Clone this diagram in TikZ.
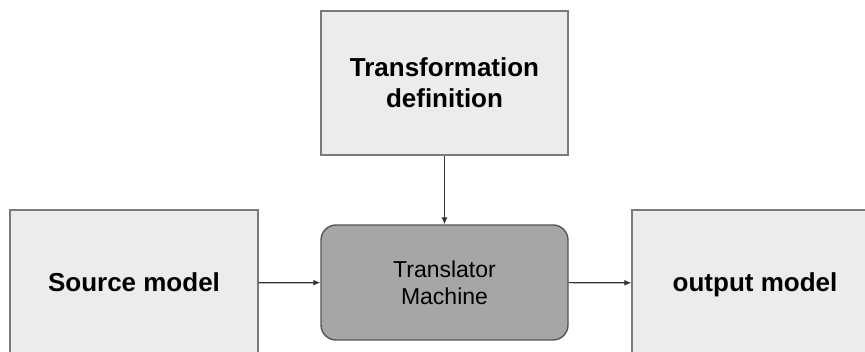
\documentclass[tikz,border=0pt]{standalone}
\usepackage{fontspec}
\setmainfont{Liberation Sans}
\usepackage{xcolor}
\usetikzlibrary{arrows.meta}

\definecolor{boxfill}{HTML}{ECECEC}
\definecolor{boxline}{HTML}{7A7A7A}
\definecolor{machfill}{HTML}{A6A6A6}
\definecolor{linkcol}{HTML}{333333}

\tikzset{
  modelbox/.style={draw=boxline,fill=boxfill,line width=1.4pt,align=center,
    font=\fontsize{26}{31}\selectfont\bfseries,inner sep=0pt},
  machbox/.style={draw=boxline!70!black,fill=machfill,line width=1.4pt,rounded corners=15pt,
    align=center,font=\fontsize{23}{27}\selectfont,inner sep=0pt},
  link/.style={-{Latex[length=7pt,width=6pt]},draw=linkcol,line width=1.1pt}
}

\begin{document}
\begin{tikzpicture}[x=1pt,y=1pt,>=Latex]
  \clip (0,0) rectangle (865,352);
  \fill[white] (0,0) rectangle (865,352);
  % the four boxes
  \node[modelbox,minimum width=248pt,minimum height=146pt,text height=19pt,text depth=1pt] (src) at (134,69) {Source model};
  \node[modelbox,minimum width=247pt,minimum height=144pt] (def) at (444.5,269) {Transformation\\definition};
  \node[machbox,minimum width=247pt,minimum height=115pt] (mach) at (444.5,69.5) {Translator\\Machine};
  \node[modelbox,minimum width=246pt,minimum height=146pt,text height=19pt,text depth=1pt] (out) at (755,69) {output model};
  % connectors
  \draw[link] (def) -- (mach);
  \draw[link] (src) -- (mach);
  \draw[link] (mach) -- (out);
\end{tikzpicture}
\end{document}
